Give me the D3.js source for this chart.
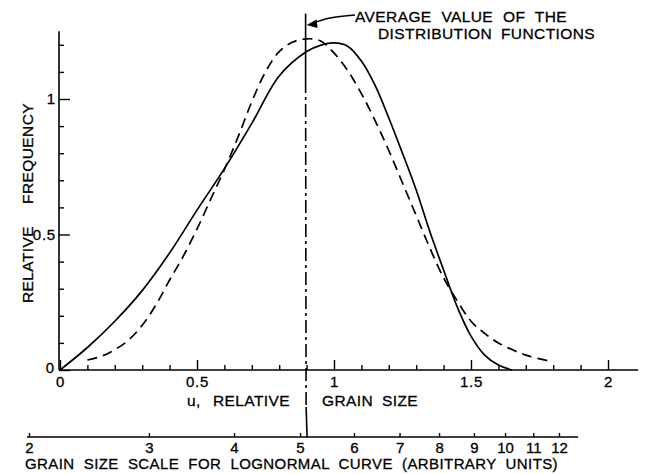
<!DOCTYPE html>
<html>
<head>
<meta charset="utf-8">
<script src="https://cdn.jsdelivr.net/npm/d3@7"></script>
<style>
  body { margin: 0; background: #fff; }
  text { font-family: "Liberation Sans", Arial, sans-serif; fill: #000; stroke: #000; stroke-width: 0.3px; }
</style>
</head>
<body>
<div id="chart"></div>
<script>
// solid curve (relative grain size u, relative frequency)
const solidU = [0, 0.1, 0.2, 0.3, 0.4, 0.5, 0.6, 0.7, 0.8, 0.9, 0.95, 1.0, 1.05, 1.1, 1.15, 1.2, 1.25, 1.3, 1.35, 1.4, 1.45, 1.5, 1.55, 1.6, 1.65];
const solidF = [0, 0.083, 0.18, 0.293, 0.432, 0.59, 0.743, 0.91, 1.085, 1.175, 1.198, 1.207, 1.195, 1.14, 1.05, 0.93, 0.8, 0.664, 0.51, 0.369, 0.232, 0.125, 0.055, 0.018, 0];

// dashed curve (lognormal)
const dashedU = [0.1, 0.15, 0.2, 0.25, 0.3, 0.35, 0.4, 0.45, 0.5, 0.55, 0.6, 0.65, 0.7, 0.75, 0.8, 0.85, 0.9, 0.95, 1.0, 1.05, 1.1, 1.15, 1.2, 1.25, 1.3, 1.35, 1.4, 1.45, 1.5, 1.55, 1.6, 1.7, 1.8];
const dashedF = [0.037, 0.05, 0.075, 0.11, 0.165, 0.24, 0.332, 0.42, 0.52, 0.63, 0.74, 0.86, 0.99, 1.1, 1.175, 1.21, 1.222, 1.215, 1.17, 1.105, 1.02, 0.92, 0.81, 0.69, 0.57, 0.45, 0.34, 0.255, 0.18, 0.135, 0.1, 0.055, 0.03];

const meanU = 0.9;

const uMajorTicks = [0, 0.5, 1, 1.5, 2];
const uMinorTicks = [0.1, 0.2, 0.3, 0.4, 0.6, 0.7, 0.8, 0.9, 1.1, 1.2, 1.3, 1.4, 1.6, 1.7, 1.8, 1.9];
const fMajorTicks = [0, 0.5, 1];
const fMinorTicks = [0.1, 0.2, 0.3, 0.4, 0.6, 0.7, 0.8, 0.9, 1.1, 1.2];
const logTicks = [2, 3, 4, 5, 6, 7, 8, 9, 10, 11, 12];

const width = 645, height = 474;

const svg = d3.select("#chart").append("svg")
  .attr("width", width)
  .attr("height", height);

const x = d3.scaleLinear().domain([0, 2]).range([60, 608]);
const y = d3.scaleLinear().domain([0, 1]).range([370, 99]);
const lx = d3.scaleLog().domain([2, 12]).range([29, 559]);
const logAxisY = 437;

// axis lines
svg.append("line")
  .attr("x1", x(0) - 1).attr("x2", x(2.11))
  .attr("y1", y(0)).attr("y2", y(0))
  .attr("stroke", "#000").attr("stroke-width", 1.6);
svg.append("line")
  .attr("x1", x(0) - 1).attr("x2", x(0) - 1)
  .attr("y1", y(0)).attr("y2", y(1.25))
  .attr("stroke", "#000").attr("stroke-width", 1.6);

function styleAxis(g) {
  g.select(".domain").remove();
  g.attr("font-family", null).attr("font-size", null);
  g.selectAll("line").attr("stroke", "#000").attr("stroke-width", 1.4);
  g.selectAll("text").style("font-size", "15px").style("letter-spacing", "0.8px");
}

// x ticks
svg.append("g")
  .attr("transform", `translate(0,${y(0)})`)
  .call(d3.axisBottom(x).tickValues(uMinorTicks).tickSize(-5).tickFormat(""))
  .call(styleAxis);
svg.append("g")
  .attr("transform", `translate(0,${y(0)})`)
  .call(d3.axisBottom(x).tickValues(uMajorTicks).tickSize(-10).tickPadding(6)
    .tickFormat(d3.format("")))
  .call(styleAxis);

// y ticks
svg.append("g")
  .attr("transform", `translate(${x(0) - 1},0)`)
  .call(d3.axisLeft(y).tickValues(fMinorTicks).tickSize(-5).tickFormat(""))
  .call(styleAxis);
svg.append("g")
  .attr("transform", `translate(${x(0) - 1},0)`)
  .call(d3.axisLeft(y).tickValues(fMajorTicks).tickSize(-11).tickPadding(3)
    .tickFormat(d3.format("")))
  .call(styleAxis)
  .selectAll("text").filter(d => d === 0).attr("dy", "0.15em").attr("x", -4);

// lognormal scale axis
svg.append("line")
  .attr("x1", lx(2) - 2).attr("x2", lx(12.8))
  .attr("y1", logAxisY).attr("y2", logAxisY)
  .attr("stroke", "#000").attr("stroke-width", 1.6);
svg.append("g")
  .attr("transform", `translate(0,${logAxisY})`)
  .call(d3.axisBottom(lx).tickValues(logTicks).tickSize(-4).tickPadding(5)
    .tickFormat(d3.format("d")))
  .call(styleAxis)
  .selectAll("text").style("letter-spacing", "0px");

// curves
const line = d3.line()
  .x(d => x(d[0]))
  .y(d => y(d[1]))
  .curve(d3.curveCatmullRom);

svg.append("path")
  .datum(solidU.map((u, i) => [u, solidF[i]]))
  .attr("d", line)
  .attr("fill", "none")
  .attr("stroke", "#000")
  .attr("stroke-width", 1.7);

svg.append("path")
  .datum(dashedU.map((u, i) => [u, dashedF[i]]))
  .attr("d", line)
  .attr("fill", "none")
  .attr("stroke", "#000")
  .attr("stroke-width", 1.7)
  .attr("stroke-dasharray", "10,6");

// average value line
const mx = x(meanU) - 1;
svg.append("line")
  .attr("x1", mx).attr("x2", mx)
  .attr("y1", y(1.315)).attr("y2", y(1.07))
  .attr("stroke", "#000").attr("stroke-width", 1.6);
svg.append("line")
  .attr("x1", mx).attr("x2", mx + 0.5)
  .attr("y1", y(1.07)).attr("y2", logAxisY - 30)
  .attr("stroke", "#000").attr("stroke-width", 1.6)
  .attr("stroke-dasharray", "13,4,3,4");
svg.append("line")
  .attr("x1", mx + 0.5).attr("x2", mx + 1.5)
  .attr("y1", logAxisY - 30).attr("y2", logAxisY)
  .attr("stroke", "#000").attr("stroke-width", 1.6);

// arrow
svg.append("path")
  .attr("d", d3.line().curve(d3.curveCatmullRom)([[355, 15], [330, 18], [312, 23.5]]))
  .attr("fill", "none").attr("stroke", "#000").attr("stroke-width", 1.5);
svg.append("path")
  .attr("d", `M${mx + 1},25 L${mx + 11},19.5 L${mx + 12},28 Z`)
  .attr("fill", "#000");

// texts: widen only the gaps between words to reach the target width
function fitWords(t, target) {
  const n = (t.text().match(/ /g) || []).length;
  const w = t.node().getComputedTextLength();
  if (n > 0 && w < target) t.style("word-spacing", ((target - w) / n) + "px");
}
function label(str, x0, x1, base, size) {
  const t = svg.append("text")
    .attr("x", x0).attr("y", base)
    .style("font-size", size + "px")
    .style("letter-spacing", "0.4px")
    .text(str);
  fitWords(t, x1 - x0);
}
label("AVERAGE VALUE OF THE", 355, 567, 22, 15.5);
label("DISTRIBUTION FUNCTIONS", 378, 595, 39, 15.5);
label("u, RELATIVE", 187, 290, 406, 15.5);
label("GRAIN SIZE", 322, 418, 406, 15.5);
label("GRAIN SIZE SCALE FOR LOGNORMAL CURVE (ARBITRARY UNITS)", 25, 558, 469, 15);

const yTitle = svg.append("text")
  .attr("transform", "translate(33,303) rotate(-90)")
  .style("font-size", "15.5px")
  .style("letter-spacing", "0.4px")
  .text("RELATIVE FREQUENCY");
fitWords(yTitle, 200);
</script>
</body>
</html>
